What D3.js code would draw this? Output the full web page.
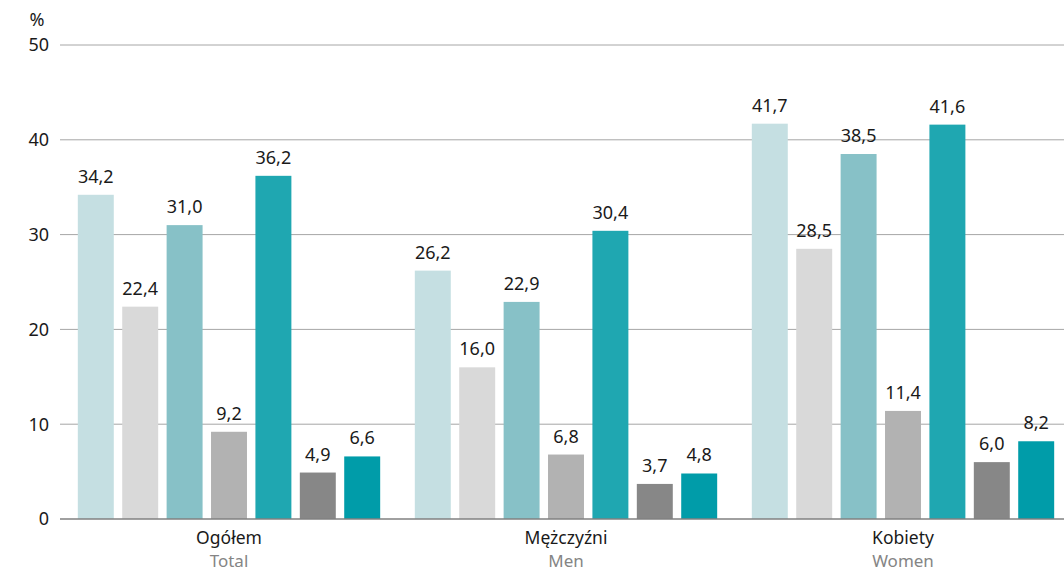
<!DOCTYPE html>
<html><head><meta charset="utf-8">
<script src="https://cdn.jsdelivr.net/npm/d3@7"></script>
<style>
body{margin:0;background:#fff;}
svg{display:block;font-family:"Noto Sans",sans-serif;}
</style></head>
<body><svg id="c" width="1064" height="572"></svg>
<script>
const groupsPl = ["Ogółem","Mężczyźni","Kobiety"];
const groupsEn = ["Total","Men","Women"];
const series = ["s1","s2","s3","s4","s5","s6","s7"];
const s1 = [34.2, 26.2, 41.7];
const s2 = [22.4, 16.0, 28.5];
const s3 = [31.0, 22.9, 38.5];
const s4 = [9.2, 6.8, 11.4];
const s5 = [36.2, 30.4, 41.6];
const s6 = [4.9, 3.7, 6.0];
const s7 = [6.6, 4.8, 8.2];
const yTicks = [0,10,20,30,40,50];
const colors = ["#c5dfe2","#d9d9d9","#87c1c7","#b2b2b2","#1fa7b1","#878787","#009ca9"];

const values = [s1,s2,s3,s4,s5,s6,s7];
const svg = d3.select("#c");
const x0 = d3.scaleBand().domain(groupsPl).range([60.5,1071.5]);
const x1 = d3.scaleBand().domain(series).range([0,x0.bandwidth()]).paddingInner(0.19).paddingOuter(0.39);
const y = d3.scaleLinear().domain([0,50]).range([519,45]);

// gridlines
svg.append("g").selectAll("line").data(yTicks.filter(d=>d>0)).join("line")
  .attr("x1",60).attr("x2",1064).attr("y1",d=>y(d)).attr("y2",d=>y(d))
  .attr("stroke","#a6a6a6").attr("stroke-width",1);

// y tick labels
svg.append("g").selectAll("text").data(yTicks).join("text")
  .attr("x",49).attr("y",d=>y(d)).attr("dy","0.36em").attr("text-anchor","end")
  .attr("font-size",18).attr("fill","#1a1a1a").text(d=>d);
svg.append("text").attr("x",37).attr("y",26).attr("text-anchor","middle")
  .attr("font-size",18).attr("fill","#1a1a1a").text("%");

// bars
const flat = [];
groupsPl.forEach((g,gi)=>series.forEach((s,si)=>flat.push({g,s,si,v:values[si][gi]})));
svg.append("g").selectAll("rect").data(flat).join("rect")
  .attr("x",d=>x0(d.g)+x1(d.s)).attr("width",x1.bandwidth())
  .attr("y",d=>y(d.v)).attr("height",d=>y(0)-y(d.v))
  .attr("fill",d=>colors[d.si]);

// value labels
svg.append("g").selectAll("text").data(flat).join("text")
  .attr("x",d=>x0(d.g)+x1(d.s)+x1.bandwidth()/2).attr("y",d=>y(d.v)-12)
  .attr("text-anchor","middle").attr("font-size",18).attr("fill","#1a1a1a")
  .text(d=>d3.format(".1f")(d.v).replace(".",","));

// baseline
svg.append("line").attr("x1",60).attr("x2",1064).attr("y1",y(0)).attr("y2",y(0))
  .attr("stroke","#808080").attr("stroke-width",1.5);

// category labels
const cat = svg.append("g").selectAll("g").data(groupsPl).join("g");
cat.append("text").attr("x",d=>x0(d)+x0.bandwidth()/2).attr("y",544)
  .attr("text-anchor","middle").attr("font-size",17.5).attr("fill","#1a1a1a").text(d=>d);
cat.append("text").attr("x",d=>x0(d)+x0.bandwidth()/2).attr("y",567)
  .attr("text-anchor","middle").attr("font-size",17).attr("fill","#858585").text((d,i)=>groupsEn[i]);
</script></body></html>
